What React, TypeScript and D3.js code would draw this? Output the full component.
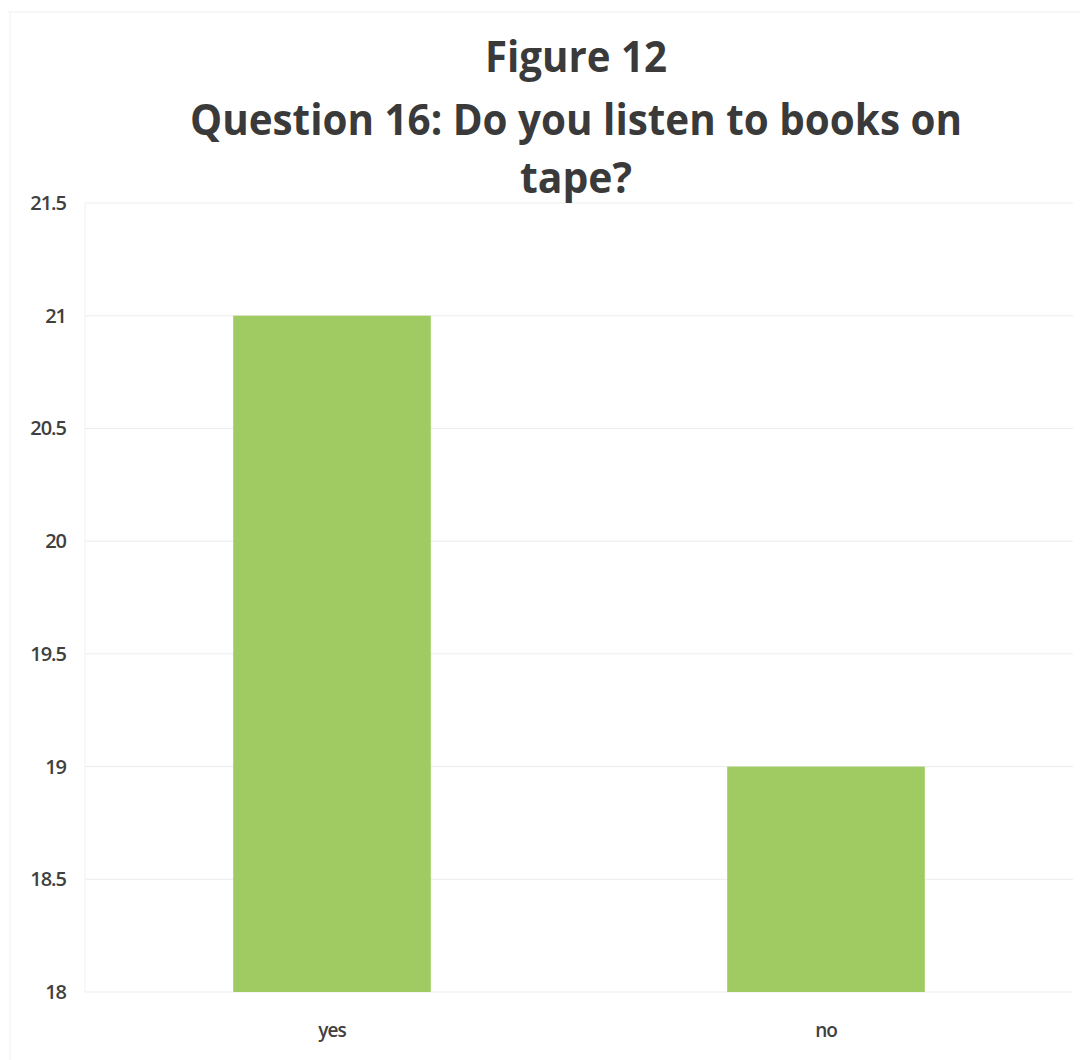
import React from "react";
import * as d3 from "d3";

const categories = ["yes", "no"];
const values = [21, 19];
const yTicks = [18, 18.5, 19, 19.5, 20, 20.5, 21, 21.5];
const titleLines = ["Figure 12", "Question 16: Do you listen to books on", "tape?"];
const titleWidths = [182, 772, 112];

export default function App() {
  const W = 1088, H = 1060;
  const left = 85, right = 1073, top = 203, bottom = 992;
  const x = d3.scaleBand<string>().domain(categories).range([left, right]).paddingInner(0.6).paddingOuter(0.3);
  const y = d3.scaleLinear().domain([18, 21.5]).range([bottom, top]);
  const titleFont = "'Liberation Sans Narrow', 'Open Sans', 'Liberation Sans', Arial, sans-serif";
  const baselines = [72, 135, 193];
  return (
    <svg width={W} height={H} style={{ position: "absolute", left: 0, top: 0, background: "#fff" }}>
      <rect x={0} y={0} width={W} height={H} fill="#fff" />
      <line x1={8} x2={1080} y1={12} y2={12} stroke="#eeeeee" strokeWidth={1} />
      <line x1={10} x2={10} y1={12} y2={1060} stroke="#f2f2f2" strokeWidth={1} />
      {yTicks.map((t) => (
        <g key={t}>
          <line x1={left} x2={right} y1={y(t)} y2={y(t)} stroke="#ececec" strokeWidth={1} />
          <text x={66} y={y(t)} dy="0.35em" textAnchor="end" fontFamily="'Open Sans', 'Liberation Sans', Arial, sans-serif" fontWeight={600} fontSize={20} fill="#404040" letterSpacing={-1}>{t}</text>
        </g>
      ))}
      <line x1={left} x2={left} y1={top} y2={bottom} stroke="#f0f0f0" strokeWidth={1} />
      {categories.map((c, i) => (
        <rect key={c} x={x(c)} y={y(values[i])} width={x.bandwidth()} height={y(18) - y(values[i])} fill="#a0cb62" />
      ))}
      {categories.map((c) => (
        <text key={c} x={(x(c) as number) + x.bandwidth() / 2} y={1037} textAnchor="middle" fontFamily="'Open Sans', 'Liberation Sans', Arial, sans-serif" fontWeight={600} fontSize={19} fill="#404040" letterSpacing={-1}>{c}</text>
      ))}
      {titleLines.map((l, i) => (
        <text key={i} x={576} y={baselines[i]} textAnchor="middle" fontFamily={titleFont} fontWeight="bold" fontSize={43} fill="#3a3a3a" textLength={titleWidths[i]} lengthAdjust="spacingAndGlyphs">{l}</text>
      ))}
    </svg>
  );
}
